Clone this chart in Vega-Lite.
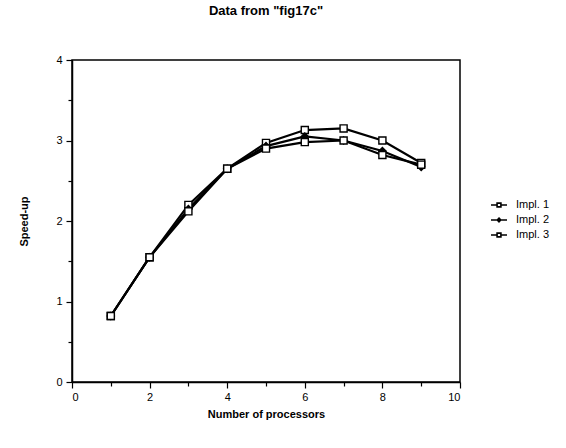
{
  "$schema": "https://vega.github.io/schema/vega-lite/v6.json",
  "width": 388,
  "height": 322,
  "autosize": {"type": "none"},
  "padding": {"left": 72, "top": 60, "right": 106, "bottom": 66},
  "background": "white",
  "config": {
    "font": "Liberation Sans",
    "view": {"stroke": "black", "strokeWidth": 1.5},
    "axis": {"domainColor": "black", "tickColor": "black", "labelColor": "black", "titleColor": "black", "grid": false, "labelFontSize": 11, "titleFontSize": 11, "titleFontWeight": "bold", "domainWidth": 1.5, "tickWidth": 1.2}
  },
  "title": {"text": "Data from \"fig17c\"", "fontSize": 13, "fontWeight": "bold", "color": "black", "offset": 36, "anchor": "middle"},
  "data": {"values": [
    {"p": 1, "s": 0.82, "impl": "Impl. 1"},
    {"p": 2, "s": 1.55, "impl": "Impl. 1"},
    {"p": 3, "s": 2.2, "impl": "Impl. 1"},
    {"p": 4, "s": 2.65, "impl": "Impl. 1"},
    {"p": 5, "s": 2.97, "impl": "Impl. 1"},
    {"p": 6, "s": 3.13, "impl": "Impl. 1"},
    {"p": 7, "s": 3.15, "impl": "Impl. 1"},
    {"p": 8, "s": 3.0, "impl": "Impl. 1"},
    {"p": 9, "s": 2.72, "impl": "Impl. 1"},
    {"p": 1, "s": 0.82, "impl": "Impl. 2"},
    {"p": 2, "s": 1.55, "impl": "Impl. 2"},
    {"p": 3, "s": 2.15, "impl": "Impl. 2"},
    {"p": 4, "s": 2.65, "impl": "Impl. 2"},
    {"p": 5, "s": 2.93, "impl": "Impl. 2"},
    {"p": 6, "s": 3.05, "impl": "Impl. 2"},
    {"p": 7, "s": 3.0, "impl": "Impl. 2"},
    {"p": 8, "s": 2.87, "impl": "Impl. 2"},
    {"p": 9, "s": 2.67, "impl": "Impl. 2"},
    {"p": 1, "s": 0.82, "impl": "Impl. 3"},
    {"p": 2, "s": 1.55, "impl": "Impl. 3"},
    {"p": 3, "s": 2.12, "impl": "Impl. 3"},
    {"p": 4, "s": 2.65, "impl": "Impl. 3"},
    {"p": 5, "s": 2.9, "impl": "Impl. 3"},
    {"p": 6, "s": 2.98, "impl": "Impl. 3"},
    {"p": 7, "s": 3.0, "impl": "Impl. 3"},
    {"p": 8, "s": 2.82, "impl": "Impl. 3"},
    {"p": 9, "s": 2.7, "impl": "Impl. 3"}
  ]},
  "layer": [
    {
      "mark": {"type": "line", "strokeWidth": 2.2, "color": "black"},
      "encoding": {
        "x": {"field": "p", "type": "quantitative", "scale": {"domain": [0, 10]}, "axis": {"values": [0, 2, 4, 6, 8, 10], "tickSize": 6, "labelPadding": 3, "title": "Number of processors", "titlePadding": 6, "orient": "bottom"}},
        "y": {"field": "s", "type": "quantitative", "scale": {"domain": [0, 4]}, "axis": {"values": [0, 1, 2, 3, 4], "tickSize": 6, "labelPadding": 4, "title": "Speed-up", "titlePadding": 26, "orient": "left"}},
        "detail": {"field": "impl", "type": "nominal"}
      }
    },
    {
      "mark": {"type": "point", "filled": true, "stroke": "black", "strokeWidth": 1.4, "opacity": 1, "size": 50},
      "encoding": {
        "x": {"field": "p", "type": "quantitative", "axis": null},
        "y": {"field": "s", "type": "quantitative", "axis": null},
        "shape": {"field": "impl", "type": "nominal", "scale": {"range": ["square", "diamond", "square"]}, "legend": null},
        "fill": {"field": "impl", "type": "nominal", "scale": {"range": ["white", "black", "white"]}, "legend": null}
      }
    },
    {
      "mark": {"type": "point", "filled": true, "strokeWidth": 1.6, "opacity": 0, "size": 256},
      "encoding": {
        "x": {"field": "p", "type": "quantitative", "axis": null},
        "y": {"field": "s", "type": "quantitative", "axis": null},
        "shape": {"field": "impl", "type": "nominal", "scale": {"range": [
          "M-1,0H-0.24M0.24,0H1M-0.24,-0.24H0.24V0.24H-0.24Z",
          "M-1,0H-0.22M0.22,0H1M0,-0.24L0.22,0L0,0.24L-0.22,0Z",
          "M-1,0H-0.24M0.24,0H1M-0.24,-0.24H0.24V0.24H-0.24Z"
        ]}, "legend": {"title": null, "orient": "none", "legendX": 418, "legendY": 136, "symbolSize": 256, "symbolOpacity": 1, "symbolStrokeWidth": 1.6, "labelFontSize": 11, "labelColor": "black", "rowPadding": 0, "labelOffset": 8}},
        "fill": {"field": "impl", "type": "nominal", "scale": {"range": ["white", "black", "white"]}},
        "stroke": {"field": "impl", "type": "nominal", "scale": {"range": ["black", "black", "black"]}}
      }
    },
    {
      "mark": {"type": "tick", "opacity": 0},
      "data": {"values": [{"v": 1}, {"v": 3}, {"v": 5}, {"v": 7}, {"v": 9}]},
      "encoding": {
        "x": {"field": "v", "type": "quantitative", "axis": {"values": [1, 3, 5, 7, 9], "labels": false, "domain": false, "tickSize": 4, "title": null, "orient": "bottom"}}
      }
    },
    {
      "mark": {"type": "tick", "opacity": 0},
      "data": {"values": [{"v": 0.5}, {"v": 1.5}, {"v": 2.5}, {"v": 3.5}]},
      "encoding": {
        "y": {"field": "v", "type": "quantitative", "axis": {"values": [0.5, 1.5, 2.5, 3.5], "labels": false, "domain": false, "tickSize": 4, "title": null, "orient": "left"}}
      }
    }
  ],
  "resolve": {"axis": {"x": "independent", "y": "independent"}, "scale": {"shape": "independent", "fill": "independent", "stroke": "independent"}}
}
